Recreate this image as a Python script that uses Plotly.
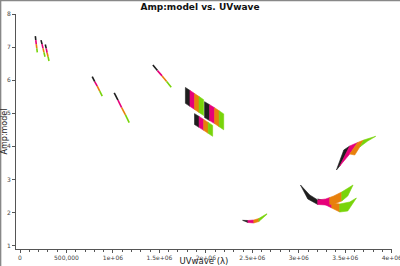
import plotly.graph_objects as go

UNIT = 1e6  # UVwave values below are given in millions of wavelengths
SPW_COLORS = ["#1e1e1e", "#e6007a", "#e8800c", "#78d40a"]

# ---- thin tracks: 5 breakpoints each (black, magenta, orange, green pieces)
track_uv = [
    [0.165, 0.170, 0.175, 0.181, 0.186],
    [0.226, 0.237, 0.248, 0.258, 0.269],
    [0.272, 0.282, 0.292, 0.302, 0.312],
    [0.777, 0.804, 0.831, 0.858, 0.885],
    [1.014, 1.054, 1.094, 1.135, 1.175],
    [1.430, 1.479, 1.529, 1.578, 1.627],
]
track_amp = [
    [7.33, 7.21, 7.09, 6.96, 6.84],
    [7.21, 7.09, 6.96, 6.84, 6.71],
    [7.08, 6.96, 6.83, 6.71, 6.58],
    [6.11, 5.96, 5.82, 5.67, 5.52],
    [5.62, 5.40, 5.17, 4.95, 4.72],
    [6.46, 6.29, 6.13, 5.96, 5.79],
]

# ---- bands with vertical colour boundaries: uv edges, top and bottom amp at each edge
band_uv = [
    [1.780, 1.829, 1.878, 1.927, 1.976],
    [1.986, 2.040, 2.094, 2.143, 2.192],
    [1.878, 1.927, 1.976, 2.025, 2.073],
    [2.395, 2.452, 2.516, 2.570, 2.656],
]
band_top = [
    [5.780, 5.690, 5.598, 5.505, 5.412],
    [5.350, 5.260, 5.168, 5.075, 4.982],
    [4.990, 4.905, 4.815, 4.725, 4.635],
    [1.766, 1.761, 1.776, 1.822, 1.965],
]
band_bot = [
    [5.300, 5.210, 5.118, 5.025, 4.932],
    [4.870, 4.780, 4.688, 4.595, 4.502],
    [4.660, 4.575, 4.485, 4.395, 4.305],
    [1.756, 1.701, 1.686, 1.731, 1.945],
]

# ---- free-form stripes (colour index, uv vertices, amp vertices)
stripe_spw = [0, 1, 2, 3,  0, 1, 2, 3,  0, 1, 2, 3]
stripe_uv = [
    # lower crescent, lower layer
    [3.204, 3.269, 3.269],
    [3.269, 3.355, 3.355, 3.269],
    [3.355, 3.441, 3.441, 3.355],
    [3.441, 3.548, 3.620, 3.527, 3.441],
    # lower crescent, upper layer
    [3.018, 3.118, 3.204, 3.204, 3.097],
    [3.204, 3.290, 3.333, 3.333, 3.290, 3.204],
    [3.333, 3.376, 3.462, 3.462, 3.376, 3.333],
    [3.462, 3.527, 3.584, 3.527, 3.462],
    # upper-right leaf
    [3.405, 3.452, 3.484, 3.548, 3.441],
    [3.548, 3.634, 3.548, 3.495, 3.441],
    [3.634, 3.699, 3.656, 3.602, 3.548],
    [3.699, 3.763, 3.828, 3.742, 3.656],
]
stripe_amp = [
    [2.411, 2.365, 2.260],
    [2.365, 2.290, 2.139, 2.260],
    [2.290, 2.260, 2.018, 2.139],
    [2.260, 2.320, 2.441, 2.048, 2.018],
    [2.834, 2.532, 2.381, 2.245, 2.411],
    [2.381, 2.411, 2.456, 2.245, 2.230, 2.245],
    [2.456, 2.502, 2.622, 2.350, 2.260, 2.245],
    [2.622, 2.743, 2.834, 2.502, 2.350],
    [3.287, 3.680, 3.891, 4.012, 3.408],
    [4.012, 4.118, 3.770, 3.589, 3.408],
    [4.118, 4.193, 3.982, 3.740, 3.770],
    [4.193, 4.254, 4.305, 4.163, 3.982],
]

x_tickvals = [0, 0.5, 1, 1.5, 2, 2.5, 3, 3.5, 4]
x_ticktext = ["0", "500,000", "1e+06", "1.5e+06", "2e+06", "2.5e+06", "3e+06", "3.5e+06", "4e+06"]
y_tickvals = [1, 2, 3, 4, 5, 6, 7, 8]

fig = go.Figure()

def poly(xs, ys, color):
    fig.add_trace(go.Scatter(
        x=[v * UNIT for v in xs] + [xs[0] * UNIT], y=list(ys) + [ys[0]],
        mode="lines", fill="toself", fillcolor=color,
        line=dict(color=color, width=0.6), hoverinfo="skip", showlegend=False))

for xs, ys in zip(track_uv, track_amp):
    for k in range(4):
        fig.add_trace(go.Scatter(
            x=[xs[k] * UNIT, xs[k + 1] * UNIT], y=[ys[k], ys[k + 1]],
            mode="lines", line=dict(color=SPW_COLORS[k], width=1.6),
            hoverinfo="skip", showlegend=False))

for xs, tops, bots in zip(band_uv, band_top, band_bot):
    for k in range(4):
        poly([xs[k], xs[k + 1], xs[k + 1], xs[k]],
             [tops[k], tops[k + 1], bots[k + 1], bots[k]], SPW_COLORS[k])

for spw, xs, ys in zip(stripe_spw, stripe_uv, stripe_amp):
    poly(xs, ys, SPW_COLORS[spw])

axis_common = dict(
    showgrid=False, zeroline=False, showline=True, linecolor="#555", linewidth=1,
    ticks="outside", ticklen=3, tickcolor="#555", automargin=False,
    ticklabeloverflow="allow",
    tickfont=dict(family="DejaVu Sans", size=6, color="#444"),
)
fig.update_xaxes(
    range=[-0.043 * UNIT, 4.003 * UNIT],
    tickvals=[v * UNIT for v in x_tickvals], ticktext=x_ticktext,
    minor=dict(ticks="outside", ticklen=2, tickcolor="#555", dtick=0.1 * UNIT),
    title=dict(text="UVwave (λ)", standoff=4,
               font=dict(family="DejaVu Sans", size=8.5, color="#222")),
    **axis_common)
fig.update_yaxes(
    range=[0.9, 8.0], tickvals=y_tickvals,
    title=dict(text="Amp:model", standoff=3,
               font=dict(family="DejaVu Sans", size=8, color="#222")),
    **axis_common)

fig.update_layout(
    width=400, height=266,
    margin=dict(l=16, r=8, t=14, b=17),
    paper_bgcolor="white", plot_bgcolor="white",
    title=dict(text="<b>Amp:model vs. UVwave</b>", x=0.5, xanchor="center",
               y=0.985, yanchor="top",
               font=dict(family="DejaVu Sans", size=9, color="#111")),
    shapes=[
        dict(type="line", xref="paper", yref="paper", x0=-0.041, x1=-0.041,
             y0=-0.08, y1=1.06, line=dict(color="#888", width=1.5)),
        dict(type="line", xref="paper", yref="paper", x0=-0.041, x1=1.03,
             y0=1.057, y1=1.057, line=dict(color="#888", width=1.5)),
    ],
)

fig.write_html("out.html")
